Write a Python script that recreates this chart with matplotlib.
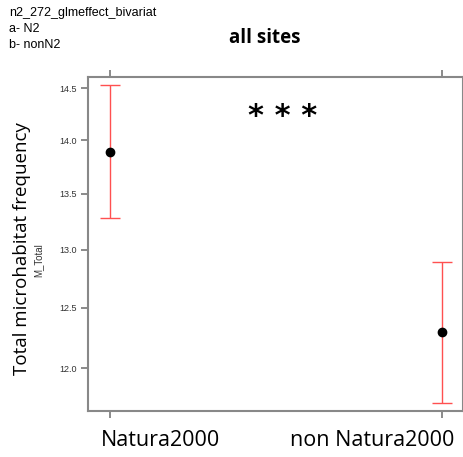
import numpy as np
import matplotlib.pyplot as plt
from matplotlib.ticker import FixedLocator, NullLocator

# glm effect estimates (log link) with confidence limits
groups = ['Natura2000', 'non Natura2000']
fit = [13.89, 12.30]
lower = [13.28, 11.72]
upper = [14.53, 12.89]
yticks = [12.0, 12.5, 13.0, 13.5, 14.0, 14.5]

fig = plt.figure(figsize=(4.64, 4.57), dpi=100)
ax = fig.add_axes([0.1897, 0.1007, 0.808, 0.7309])

x = np.arange(1, len(groups) + 1)
fit = np.array(fit)
yerr = np.vstack([fit - np.array(lower), np.array(upper) - fit])
ax.errorbar(x, fit, yerr=yerr, fmt='none', ecolor='#ff5050', elinewidth=1.0,
            capsize=7.5, capthick=1.0)
ax.plot(x, fit, 'o', color='black', markersize=6, zorder=3)

ax.set_yscale('log')
ax.set_ylim(11.66, 14.61)
ax.yaxis.set_major_locator(FixedLocator(yticks))
ax.yaxis.set_minor_locator(NullLocator())
ax.set_yticklabels(['%.1f' % v for v in yticks], fontsize=6.5, color='#333333',
                   family='Liberation Sans')
ax.set_xlim(0.934, 2.063)
ax.set_xticks(x)
ax.set_xticklabels([])
ax.tick_params(axis='x', top=True, direction='out', length=5, color='#777777',
               width=1.2)
ax.tick_params(axis='y', direction='out', length=5, color='#777777', width=1.2, pad=3)

for s in ax.spines.values():
    s.set_color('#888888')
    s.set_linewidth(1.5)

# group names under the panel
fig.text(0.345, 0.037, groups[0], fontsize=15.5, ha='center', va='center',
         family='Open Sans')
fig.text(0.803, 0.037, groups[1], fontsize=15.5, ha='center', va='center',
         family='Open Sans')

fig.text(0.047, 0.457, 'Total microhabitat frequency', rotation=90, fontsize=13.5,
         ha='center', va='center', family='Open Sans')
fig.text(0.082, 0.43, 'M_Total', rotation=90, fontsize=7, ha='center', va='center',
         family='Liberation Sans', color='#333333')

fig.text(0.5715, 0.917, 'all sites', fontsize=13.5, fontweight='bold', ha='center',
         va='center', family='Open Sans')
fig.text(0.61, 0.745, '* * *', fontsize=22, fontweight='bold', ha='center',
         va='center', family='DejaVu Sans')

fig.text(0.02, 0.984, 'n2_272_glmeffect_bivariat\na- N2\nb- nonN2', fontsize=9,
         ha='left', va='top', family='Liberation Sans', linespacing=1.45)

fig.savefig('out.png', dpi=100)
